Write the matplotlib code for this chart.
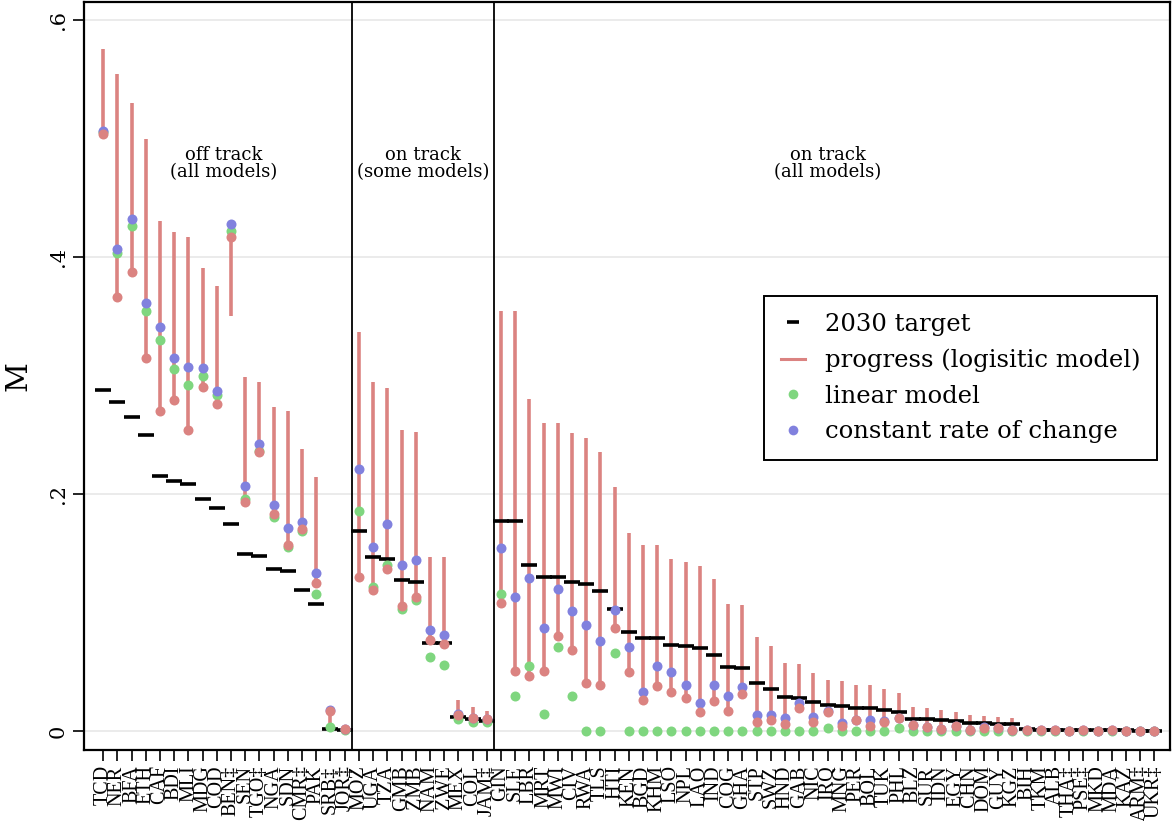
import numpy as np
import matplotlib
matplotlib.use('Agg')
import matplotlib.pyplot as plt
from matplotlib.lines import Line2D

# country codes, three groups
codes_off = ['TCD', 'NER', 'BFA', 'ETH', 'CAF', 'BDI', 'MLI', 'MDG', 'COD', 'BEN‡',
             'SEN', 'TGO‡', 'NGA', 'SDN', 'CMR‡', 'PAK', 'SRB‡', 'JOR‡']
codes_some = ['MOZ', 'UGA', 'TZA', 'GMB', 'ZMB', 'NAM', 'ZWE', 'MEX', 'COL', 'JAM‡']
codes_all = ['GIN', 'SLE', 'LBR', 'MRT', 'MWI', 'CIV', 'RWA', 'TLS', 'HTI', 'KEN',
             'BGD', 'KHM', 'LSO', 'NPL', 'LAO', 'IND', 'COG', 'GHA', 'STP', 'SWZ',
             'HND', 'GAB', 'NIC', 'IRQ', 'MNG', 'PER', 'BOL', 'TUK', 'PHL', 'BLZ',
             'SUR', 'IDN', 'EGY', 'CHN', 'DOM', 'GUY', 'KGZ', 'BIH', 'TKM', 'ALB',
             'THA‡', 'PSE‡', 'MKD', 'MDA', 'KAZ', 'ARM‡', 'UKR‡']

# 2030 target
target = [.2875, .2774, .2653, .2498, .2155, .211, .2082, .1955, .1879, .175,
          .1496, .1474, .1367, .135, .119, .1072, .002, .001,
          .1688, .1471, .1449, .1274, .126, .074, .074, .012, .0099, .0084,
          .1772, .1772, .140, .130, .130, .1256, .1238, .1178, .1033, .0834,
          .0786, .0786, .0726, .0714, .0699, .0641, .0539, .0532, .0402, .0357,
          .0287, .0281, .0245, .0217, .0211, .0194, .0191, .0177, .016, .0104,
          .010, .009, .0085, .007, .0067, .0062, .0056, .002, .001, .001,
          .0005, .001, .0005, .0005, .0005, .0003, .0003]

# logistic model point estimate
logistic = [.504, .3665, .3876, .3145, .270, .2793, .254, .2903, .276, .4169,
            .1935, .2357, .1831, .1572, .1707, .1246, .0171, .0017,
            .130, .1193, .137, .1052, .113, .0771, .0731, .0138, .0112, .0099,
            .1078, .0506, .0467, .0509, .0804, .0687, .0406, .0388, .087, .0497,
            .0258, .0379, .0325, .0279, .0159, .025, .0168, .031, .0076, .0093,
            .0062, .0191, .0076, .016, .0045, .009, .0045, .0073, .0107, .0048,
            .0034, .002, .004, .0008, .0028, .0023, .0011, .0009, .0005, .0011,
            .0003, .001, .0003, .0005, .0004, .0003, .0003]

# logistic model range (lower / upper end of the line)
prog_lo = [.504, .3665, .3876, .3145, .270, .2793, .254, .2903, .276, .3505,
           .1935, .2357, .1831, .1572, .1707, .1246, .004, .0017,
           .130, .1193, .137, .1052, .113, .0771, .0731, .0138, .0112, .0099,
           .1078, .0506, .0467, .0509, .0804, .0687, .0406, .0388, .087, .0497,
           .0258, .0379, .0325, .0279, .0159, .025, .0168, .031, .0076, .0093,
           .0062, .0191, .0076, .016, .0045, .009, .0045, .0073, .0107, .0048,
           .0034, .002, .004, .0008, .0028, .0023, .0011, .0009, .0005, .0011,
           .0003, .001, .0003, .0005, .0004, .0003, .0003]
prog_hi = [.575, .554, .530, .4996, .4307, .4214, .4166, .3904, .3755, .4169,
           .299, .2945, .273, .270, .2377, .2146, .0171, .0017,
           .337, .2942, .2895, .254, .252, .1466, .1466, .0262, .020, .0171,
           .3544, .3544, .2802, .260, .260, .2516, .2473, .2353, .2058, .1672,
           .1566, .1566, .1452, .1425, .1392, .1284, .1073, .1061, .0796, .0717,
           .0571, .0563, .0487, .043, .0422, .0388, .0385, .0354, .0318, .0202,
           .0194, .0177, .0163, .0135, .0129, .0118, .0107, .0009, .0005, .0011,
           .0003, .001, .0003, .0005, .0004, .0003, .0003]

# linear model
linear = [.505, .403, .426, .3544, .3297, .305, .2917, .2993, .2835, .4222,
          .1955, .236, .1806, .1555, .1688, .1153, .0036, .001,
          .1857, .1213, .1401, .1027, .1105, .0624, .0557, .0099, .0073, .0073,
          .116, .0295, .0551, .0141, .0708, .0292, 0, 0, .0657, 0,
          0, 0, 0, 0, 0, 0, 0, 0, 0, 0,
          0, 0, 0, .0023, 0, 0, 0, 0, .0023, 0,
          0, 0, 0, 0, 0, 0, 0, 0, 0, 0,
          0, 0, 0, 0, 0, 0, 0]

# constant rate of change
constant = [.506, .4065, .432, .3615, .3406, .315, .3074, .3066, .2872, .4278,
            .2067, .2419, .1907, .1716, .1764, .1331, .0177, .002,
            .2214, .1553, .1747, .1401, .144, .085, .0807, .014, .011, .0099,
            .1545, .113, .1295, .0868, .1196, .1009, .0898, .0759, .1024, .0705,
            .0331, .0545, .0494, .0385, .0235, .0391, .0295, .0369, .0135, .0135,
            .0107, .0233, .0121, .0169, .007, .009, .0093, .0087, .0107, .005,
            .0035, .002, .004, .001, .003, .0023, .0011, .0009, .0005, .0011,
            .0003, .001, .0003, .0005, .0004, .0003, .0003]

group_titles = ['off track\n(all models)', 'on track\n(some models)', 'on track\n(all models)']

codes = codes_off + codes_some + codes_all
x = np.arange(len(codes))

red = '#db8381'
green = '#7fd67f'
blue = '#8181de'

plt.rcParams['font.family'] = ['DejaVu Serif']

fig = plt.figure(figsize=(11.72, 8.21), dpi=100)
ax = fig.add_axes([0.0717, 0.0865, 0.9266, 0.911])

for v in [0, .2, .4, .6]:
    ax.axhline(v, color='#e8e8e8', lw=1.2, zorder=0)

ax.vlines(x, prog_lo, prog_hi, color=red, lw=2.6, zorder=2)
ax.plot(x, target, ls='none', marker='_', ms=11, mew=2.6, color='black', zorder=3)
ax.plot(x, linear, ls='none', marker='o', ms=7.2, color=green, mec='none', zorder=4)
ax.plot(x, constant, ls='none', marker='o', ms=7.2, color=blue, mec='none', zorder=5)
ax.plot(x, logistic, ls='none', marker='o', ms=7.2, color=red, mec='none', zorder=6)

n1 = len(codes_off)
n2 = n1 + len(codes_some)
ax.axvline(n1 - 0.5, color='black', lw=1.3, zorder=1)
ax.axvline(n2 - 0.5, color='black', lw=1.3, zorder=1)

centers = [(n1 - 1) / 2, (n1 + n2 - 1) / 2, (n2 + len(codes) - 1) / 2]
for c, t in zip(centers, group_titles):
    ax.text(c, .479, t, ha='center', va='center', fontsize=13, linespacing=0.95)

ax.set_xlim(-1.35, 75.1)
ax.set_ylim(-0.016, 0.615)
ax.set_xticks(x)
ax.set_xticklabels(codes, rotation=90, fontsize=14.5, family=['Liberation Serif', 'DejaVu Serif'])
ax.set_yticks([0, .2, .4, .6])
ax.set_yticklabels(['0', '.2', '.4', '.6'], rotation=90, va='center', fontsize=15)
ax.tick_params(axis='both', direction='out', length=8, width=1.2)
ax.tick_params(axis='x', pad=3)
ax.set_ylabel('M', fontsize=21, labelpad=12)
for s in ax.spines.values():
    s.set_linewidth(1.6)

handles = [Line2D([], [], ls='none', marker='_', ms=8, mew=2.6, color='black'),
           Line2D([], [], color=red, lw=2.2),
           Line2D([], [], ls='none', marker='o', ms=7, color=green, mec='none'),
           Line2D([], [], ls='none', marker='o', ms=7, color=blue, mec='none')]
labels = ['2030 target', 'progress (logisitic model)', 'linear model', 'constant rate of change']
leg = ax.legend(handles, labels, loc='upper left', bbox_to_anchor=(0.626, 0.607),
                fontsize=17.5, fancybox=False, framealpha=1, edgecolor='black',
                handlelength=1.0, handletextpad=0.8, borderpad=0.7, labelspacing=0.52,
                borderaxespad=0)
leg.get_frame().set_linewidth(1.4)

plt.savefig('out.png', dpi=100)
